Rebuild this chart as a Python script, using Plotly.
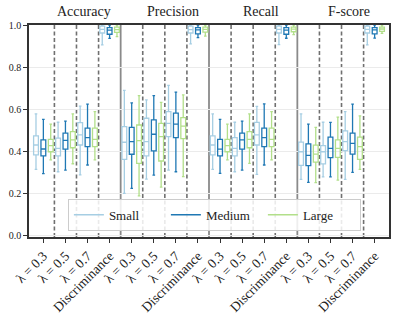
import plotly.graph_objects as go

metrics = ["Accuracy", "Precision", "Recall", "F-score"]
groups = ["λ = 0.3", "λ = 0.5", "λ = 0.7", "Discriminance"]
tick_labels = groups * 4
sizes = ["Small", "Medium", "Large"]
colors = ["#a6cee3", "#1f78b4", "#b2df8a"]

# Order: Accuracy(4 groups), Precision(4), Recall(4), F-score(4)
small_lo = [.314, .303, .288, .906, .200, .268, .311, .910, .314, .303, .290, .907, .267, .279, .267, .906]
small_q1 = [.383, .378, .430, .962, .362, .378, .470, .962, .383, .378, .430, .962, .333, .340, .403, .962]
small_med = [.430, .414, .478, .979, .443, .446, .533, .978, .430, .414, .478, .979, .398, .398, .446, .979]
small_q3 = [.473, .463, .536, .995, .517, .557, .589, .995, .473, .465, .537, .995, .444, .427, .497, .995]
small_hi = [.578, .538, .615, 1.0, .689, .644, .713, 1.0, .578, .538, .613, 1.0, .578, .538, .589, 1.0]

medium_lo = [.294, .311, .335, .936, .224, .287, .303, .940, .295, .311, .335, .937, .252, .279, .300, .938]
medium_q1 = [.378, .410, .422, .956, .386, .402, .465, .958, .378, .410, .422, .956, .332, .370, .387, .958]
medium_med = [.411, .452, .465, .976, .446, .481, .529, .977, .410, .454, .465, .976, .381, .414, .438, .977]
medium_q3 = [.454, .486, .510, .988, .514, .549, .581, .988, .457, .486, .510, .988, .435, .467, .486, .988]
medium_hi = [.552, .543, .624, 1.0, .630, .665, .681, 1.0, .552, .543, .625, 1.0, .529, .537, .624, 1.0]

large_lo = [.359, .341, .359, .945, .188, .230, .280, .947, .359, .343, .359, .954, .251, .263, .314, .960]
large_q1 = [.398, .417, .422, .965, .343, .354, .460, .966, .398, .417, .422, .968, .349, .371, .362, .970]
large_med = [.427, .454, .457, .978, .451, .470, .520, .979, .427, .457, .457, .980, .387, .414, .422, .981]
large_q3 = [.457, .494, .510, .990, .525, .533, .560, .990, .457, .494, .510, .990, .429, .454, .467, .990]
large_hi = [.529, .578, .589, 1.0, .665, .632, .668, 1.0, .529, .578, .589, 1.0, .514, .562, .568, 1.0]

stats = {
    "Small": (small_lo, small_q1, small_med, small_q3, small_hi),
    "Medium": (medium_lo, medium_q1, medium_med, medium_q3, medium_hi),
    "Large": (large_lo, large_q1, large_med, large_q3, large_hi),
}

positions = list(range(len(tick_labels)))
font_family = "Liberation Serif"

fig = go.Figure()
for name, col in zip(sizes, colors):
    lo, q1, med, q3, hi = stats[name]
    fig.add_trace(go.Box(
        x=positions, q1=q1, median=med, q3=q3, lowerfence=lo, upperfence=hi,
        name=name, offsetgroup=name, line=dict(color=col, width=1.3),
        fillcolor="rgba(255,255,255,0)", whiskerwidth=0.55,
        showlegend=False, boxpoints=False,
    ))
    fig.add_trace(go.Scatter(
        x=[None], y=[None], mode="lines", name=name,
        line=dict(color=col, width=1.6), showlegend=True,
    ))

shapes = []
n_groups = len(groups)
for m in range(len(metrics)):
    for g in range(n_groups - 1):
        xp = m * n_groups + g + 0.5
        shapes.append(dict(type="line", xref="x", yref="paper", x0=xp, x1=xp, y0=0, y1=1,
                           line=dict(color="#707070", width=1.6, dash="4px,2.5px"), layer="below"))
    if m > 0:
        xp = m * n_groups - 0.5
        shapes.append(dict(type="line", xref="x", yref="paper", x0=xp, x1=xp, y0=0, y1=1,
                           line=dict(color="#8a8a8a", width=1.8), layer="below"))

annotations = []
for m, title in enumerate(metrics):
    annotations.append(dict(text=title, x=m * n_groups + 1.85, y=1.062, xref="x", yref="paper",
                            xanchor="center", yanchor="middle", showarrow=False,
                            font=dict(family=font_family, size=14, color="#222")))

fig.update_layout(
    width=399, height=314,
    margin=dict(l=29, r=10, t=25, b=77, autoexpand=False),
    paper_bgcolor="white", plot_bgcolor="white",
    boxmode="group", boxgap=0, boxgroupgap=0.35,
    shapes=shapes, annotations=annotations,
    font=dict(family=font_family, color="#222"),
    legend=dict(orientation="h", x=0.108, y=0.105, xanchor="left", yanchor="middle",
                bgcolor="rgba(255,255,255,0.85)", bordercolor="#cccccc", borderwidth=1,
                font=dict(family=font_family, size=13), itemwidth=30, entrywidth=52),
)
fig.update_xaxes(
    range=[-0.65, 15.65], tickmode="array", tickvals=positions, ticktext=tick_labels,
    tickangle=-45, ticks="outside", ticklen=4, tickcolor="#333", tickwidth=1,
    showline=True, linecolor="#333", linewidth=1.5, mirror=True, showgrid=False,
    zeroline=False, automargin=False,
    tickfont=dict(family=font_family, size=13.5, color="#222"),
)
fig.update_yaxes(
    range=[-0.007, 1.0], tickmode="array", tickvals=[0, 0.2, 0.4, 0.6, 0.8, 1.0],
    tickformat=".1f", ticks="outside", ticklen=4, tickcolor="#333", tickwidth=1,
    showline=True, linecolor="#333", linewidth=1.5, mirror=True, automargin=False,
    showgrid=True, gridcolor="#ebebeb", gridwidth=1, zeroline=False,
    tickfont=dict(family=font_family, size=10, color="#222"),
)

fig.write_html("out.html", config={"displayModeBar": False},
               post_script="document.body.style.margin='0';")
